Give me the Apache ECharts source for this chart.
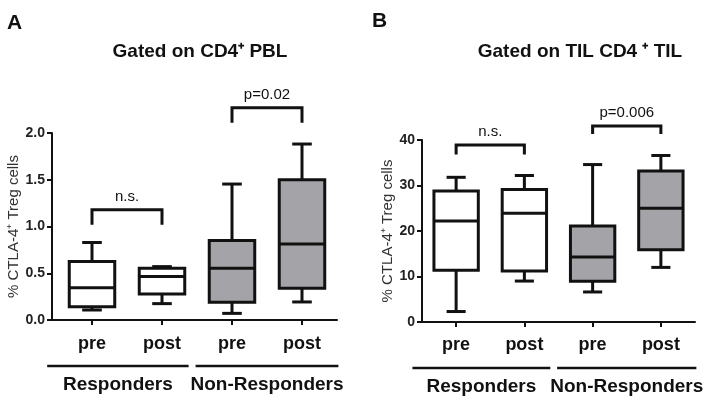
<!DOCTYPE html>
<html><head><meta charset="utf-8">
<script src="https://cdn.jsdelivr.net/npm/echarts@6/dist/echarts.min.js"></script>
<style>html,body{margin:0;padding:0;background:#fff}#c{width:714px;height:402px}</style>
</head><body><div id="c"></div>
<script>
// ---------- data ----------
const categories = ['pre', 'post', 'pre', 'post'];
const categoryGroup = [0, 0, 1, 1];           // 0 = Responders, 1 = Non-Responders
const groupNames = ['Responders', 'Non-Responders'];
const groupSpans = [[0.36, 2.38], [2.48, 4.52]];

// [min, q1, median, q3, max]
const pblBoxes = [
  [0.107, 0.143, 0.346, 0.625, 0.829],
  [0.175, 0.279, 0.464, 0.554, 0.571],
  [0.071, 0.189, 0.554, 0.850, 1.454],
  [0.193, 0.339, 0.814, 1.500, 1.882]
];
const tilBoxes = [
  [2.3, 11.4, 22.2, 28.8, 31.8],
  [9.0, 11.2, 23.9, 29.1, 32.2],
  [6.6, 8.95, 14.3, 21.1, 34.6],
  [12.0, 15.9, 25.0, 33.2, 36.6]
];

// [fromCategory, toCategory, legEnd, top]
const pblBrackets = [[1, 2, 1.02, 1.18], [3, 4, 2.11, 2.27]];
const pblBracketLabels = ['n.s.', 'p=0.02'];
const tilBrackets = [[1, 2, 36.8, 38.9], [3, 4, 41.3, 43.1]];
const tilBracketLabels = ['n.s.', 'p=0.006'];

const pblTicks = ['0.0', '0.5', '1.0', '1.5', '2.0'];
const tilTicks = ['0', '10', '20', '30', '40'];

const panelLetters = ['A', 'B'];
const panelTitles = ['Gated on CD4\u207A PBL', 'Gated on TIL CD4 \u207A TIL'];
const yAxisName = '% CTLA-4\u207A Treg cells';

// ---------- chart ----------
const FF = '"Liberation Sans", Arial, Helvetica, sans-serif';
const INK = '#111';
const GRAY = '#a4a4a8';

function renderBox(params, api) {
  const x = api.value(0);
  const mn = api.value(1), q1 = api.value(2), md = api.value(3), q3 = api.value(4), mx = api.value(5);
  const g = api.value(6);
  const hw = 0.325, cw = 0.14, lw = 3;
  const P = (a, b) => api.coord([a, b]);
  const line = (p1, p2) => ({ type: 'line', shape: { x1: p1[0], y1: p1[1], x2: p2[0], y2: p2[1] },
    style: { stroke: INK, lineWidth: lw } });
  const tl = P(x - hw, q3), br = P(x + hw, q1);
  return { type: 'group', children: [
    line(P(x, q3), P(x, mx)), line(P(x - cw, mx), P(x + cw, mx)),
    line(P(x, q1), P(x, mn)), line(P(x - cw, mn), P(x + cw, mn)),
    { type: 'rect', shape: { x: tl[0], y: tl[1], width: br[0] - tl[0], height: br[1] - tl[1] },
      style: { fill: g ? GRAY : '#ffffff', stroke: INK, lineWidth: lw } },
    line(P(x - hw, md), P(x + hw, md))
  ] };
}

function makeBracketRenderer(labels) {
  return function (params, api) {
    const a = api.value(0), b = api.value(1), leg = api.value(2), top = api.value(3);
    const idx = api.value(4);
    const p1 = api.coord([a, leg]), p2 = api.coord([a, top]), p3 = api.coord([b, top]), p4 = api.coord([b, leg]);
    return { type: 'group', children: [
      { type: 'polyline', shape: { points: [p1, p2, p3, p4] },
        style: { stroke: INK, lineWidth: 3, fill: null } },
      { type: 'text', style: { x: (p2[0] + p3[0]) / 2, y: p2[1] - 13, text: labels[idx],
        align: 'center', verticalAlign: 'middle', font: '15px ' + FF, fill: INK } }
    ] };
  };
}

function renderGroup(params, api) {
  const a = api.value(0), b = api.value(2), idx = api.value(3);
  const p1 = api.coord([a, api.value(1)]), p2 = api.coord([b, api.value(1)]);
  const y = p1[1] + 46;
  return { type: 'group', children: [
    { type: 'line', shape: { x1: p1[0], y1: y, x2: p2[0], y2: y }, style: { stroke: INK, lineWidth: 2.5 } },
    { type: 'text', style: { x: (p1[0] + p2[0]) / 2, y: y + 19, text: groupNames[idx],
      align: 'center', verticalAlign: 'middle', font: 'bold 19px ' + FF, fill: INK } }
  ] };
}

function xAxisCfg(gridIndex, min, max, margin) {
  const pos = categories.map((c, i) => i + 1);
  return {
    type: 'value', gridIndex, min, max,
    axisLine: { show: true, onZero: false, lineStyle: { color: INK, width: 2 } },
    axisTick: { show: true, customValues: pos, length: 5, lineStyle: { color: INK, width: 2 } },
    axisLabel: { customValues: pos, formatter: v => categories[Math.round(v) - 1], margin,
      fontSize: 18, fontWeight: 'bold', color: INK, fontFamily: FF },
    splitLine: { show: false }
  };
}

function yAxisCfg(gridIndex, ticks, nameGap) {
  const vals = ticks.map(Number);
  return {
    type: 'value', gridIndex, min: vals[0], max: vals[vals.length - 1], interval: vals[1] - vals[0],
    axisLine: { show: true, lineStyle: { color: INK, width: 2 } },
    axisTick: { show: true, length: 5, lineStyle: { color: INK, width: 2 } },
    axisLabel: { formatter: v => ticks[vals.indexOf(v)] !== undefined ? ticks[vals.indexOf(v)] : String(v),
      fontSize: 14, fontWeight: 'bold', color: '#222', margin: 7, fontFamily: FF },
    splitLine: { show: false },
    name: yAxisName, nameLocation: 'middle', nameGap,
    nameTextStyle: { fontSize: 15, color: '#333', fontFamily: FF }
  };
}

function boxData(boxes) { return boxes.map((b, i) => [i + 1].concat(b, [categoryGroup[i]])); }
function bracketData(br) { return br.map((b, i) => b.concat([i])); }
const groupData = groupSpans.map((s, i) => [s[0], 0, s[1], i]);

const chart = echarts.init(document.getElementById('c'), null, { renderer: 'canvas' });
chart.setOption({
  animation: false,
  backgroundColor: '#ffffff',
  textStyle: { fontFamily: FF },
  grid: [
    { left: 52, top: 133, width: 285, height: 187 },
    { left: 422, top: 140, width: 273, height: 182 }
  ],
  xAxis: [xAxisCfg(0, 0.4286, 4.5, 15), xAxisCfg(1, 0.5, 4.5, 14)],
  yAxis: [yAxisCfg(0, pblTicks, 30), yAxisCfg(1, tilTicks, 26)],
  graphic: [
    { type: 'text', left: 7, top: 13, style: { text: panelLetters[0], font: 'bold 21px ' + FF, fill: INK } },
    { type: 'text', left: 372, top: 11, style: { text: panelLetters[1], font: 'bold 21px ' + FF, fill: INK } },
    { type: 'text', x: 200, y: 52, style: { text: panelTitles[0], align: 'center', verticalAlign: 'middle',
      font: 'bold 19px ' + FF, fill: INK } },
    { type: 'text', x: 580, y: 52, style: { text: panelTitles[1], align: 'center', verticalAlign: 'middle',
      font: 'bold 19px ' + FF, fill: INK } }
  ],
  series: [
    { type: 'custom', xAxisIndex: 0, yAxisIndex: 0, silent: true, clip: false, renderItem: renderBox,
      encode: { x: 0, y: [1, 2, 3, 4, 5] }, data: boxData(pblBoxes) },
    { type: 'custom', xAxisIndex: 1, yAxisIndex: 1, silent: true, clip: false, renderItem: renderBox,
      encode: { x: 0, y: [1, 2, 3, 4, 5] }, data: boxData(tilBoxes) },
    { type: 'custom', xAxisIndex: 0, yAxisIndex: 0, silent: true, clip: false,
      renderItem: makeBracketRenderer(pblBracketLabels), encode: { x: [0, 1], y: [2, 3] }, data: bracketData(pblBrackets) },
    { type: 'custom', xAxisIndex: 1, yAxisIndex: 1, silent: true, clip: false,
      renderItem: makeBracketRenderer(tilBracketLabels), encode: { x: [0, 1], y: [2, 3] }, data: bracketData(tilBrackets) },
    { type: 'custom', xAxisIndex: 0, yAxisIndex: 0, silent: true, clip: false, renderItem: renderGroup,
      encode: { x: [0, 2], y: 1 }, data: groupData },
    { type: 'custom', xAxisIndex: 1, yAxisIndex: 1, silent: true, clip: false, renderItem: renderGroup,
      encode: { x: [0, 2], y: 1 }, data: groupData }
  ]
});
</script></body></html>
